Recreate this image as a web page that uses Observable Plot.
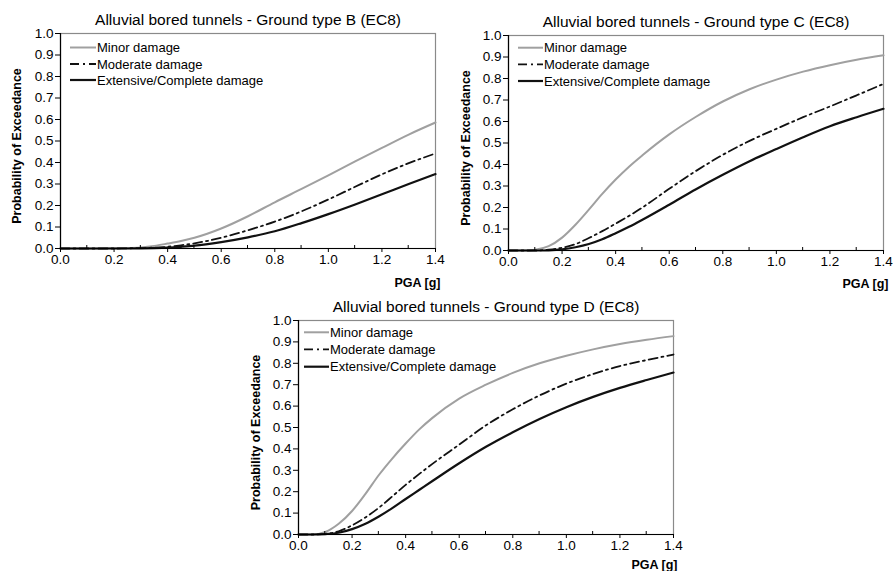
<!DOCTYPE html>
<html><head><meta charset="utf-8">
<script src="https://cdn.jsdelivr.net/npm/d3@7"></script>
<script src="https://cdn.jsdelivr.net/npm/@observablehq/plot@0.6"></script>
<style>
html,body{margin:0;padding:0;background:#fff}
body{width:893px;height:571px;position:relative;overflow:hidden;font-family:"Liberation Sans",Arial,sans-serif}
.panel{position:absolute}
.panel svg{overflow:visible}
</style></head><body>
<div id="pB" class="panel" style="left:0px;top:0px"></div>
<div id="pC" class="panel" style="left:440px;top:0px"></div>
<div id="pD" class="panel" style="left:230px;top:286px"></div>
<script>
// ---- data ----
const pga = [0, 0.05, 0.1, 0.15, 0.2, 0.25, 0.3, 0.35, 0.4, 0.45, 0.5, 0.6, 0.7, 0.8, 0.9, 1.0, 1.1, 1.2, 1.3, 1.4];
const seriesNames = ["Minor damage", "Moderate damage", "Extensive/Complete damage"];
const xTicks = [0, 0.2, 0.4, 0.6, 0.8, 1.0, 1.2, 1.4];
const xMinorTicks = [0.1, 0.3, 0.5, 0.7, 0.9, 1.1, 1.3];
const yTicks = [0, 0.1, 0.2, 0.3, 0.4, 0.5, 0.6, 0.7, 0.8, 0.9, 1.0];
const titles = [
  "Alluvial bored tunnels - Ground type B (EC8)",
  "Alluvial bored tunnels - Ground type C (EC8)",
  "Alluvial bored tunnels - Ground type D (EC8)"
];
const yLabel = "Probability of Exceedance";
const xLabel = "PGA [g]";

const minorB     = [0, 0, 0, 0, 0.001, 0.002, 0.005, 0.012, 0.023, 0.035, 0.05, 0.093, 0.15, 0.215, 0.277, 0.34, 0.405, 0.468, 0.53, 0.586];
const moderateB  = [0, 0, 0, 0, 0, 0.001, 0.002, 0.004, 0.008, 0.015, 0.024, 0.05, 0.085, 0.125, 0.173, 0.228, 0.287, 0.345, 0.397, 0.442];
const extensiveB = [0, 0, 0, 0, 0, 0, 0.001, 0.002, 0.004, 0.008, 0.013, 0.03, 0.052, 0.08, 0.118, 0.16, 0.205, 0.252, 0.3, 0.346];

const minorC     = [0, 0, 0.004, 0.02, 0.06, 0.12, 0.19, 0.263, 0.33, 0.39, 0.443, 0.54, 0.622, 0.693, 0.75, 0.795, 0.832, 0.862, 0.887, 0.908];
const moderateC  = [0, 0, 0, 0.004, 0.013, 0.03, 0.058, 0.09, 0.125, 0.161, 0.2, 0.287, 0.37, 0.445, 0.51, 0.566, 0.62, 0.67, 0.722, 0.775];
const extensiveC = [0, 0, 0, 0.001, 0.005, 0.015, 0.03, 0.052, 0.08, 0.11, 0.143, 0.213, 0.285, 0.352, 0.415, 0.472, 0.527, 0.578, 0.62, 0.659];

const minorD     = [0, 0, 0.012, 0.05, 0.11, 0.19, 0.278, 0.355, 0.425, 0.49, 0.545, 0.635, 0.7, 0.755, 0.8, 0.835, 0.865, 0.89, 0.91, 0.927];
const moderateD  = [0, 0, 0.003, 0.015, 0.043, 0.08, 0.125, 0.178, 0.232, 0.282, 0.33, 0.42, 0.51, 0.585, 0.65, 0.705, 0.75, 0.787, 0.815, 0.841];
const extensiveD = [0, 0, 0.002, 0.008, 0.025, 0.05, 0.084, 0.123, 0.166, 0.208, 0.25, 0.333, 0.41, 0.478, 0.54, 0.595, 0.643, 0.685, 0.722, 0.757];

// ---- styles ----
const seriesStyle = [
  {stroke: "#a0a0a0", strokeWidth: 2, dash: null},
  {stroke: "#111", strokeWidth: 1.8, dash: "9,4,2,4"},
  {stroke: "#111", strokeWidth: 2.2, dash: null}
];
const FONT = "'Liberation Sans', Arial, Helvetica, sans-serif";

function panel(cfg) {
  const {el, title, series, width, height, mt, mr, mb, ml, ylDx, xlDx, xlDy, legend} = cfg;
  const lineMarks = series.map((vals, s) => {
    const rows = pga.map((x, i) => ({pga: x, p: vals[i]}));
    return Plot.line(rows, {
      x: "pga", y: "p",
      stroke: seriesStyle[s].stroke,
      strokeWidth: seriesStyle[s].strokeWidth,
      strokeDasharray: seriesStyle[s].dash,
      curve: "monotone-x"
    });
  });
  const chart = Plot.plot({
    width, height,
    marginTop: mt, marginRight: mr, marginBottom: mb, marginLeft: ml,
    style: {fontFamily: FONT, fontSize: "13.5px", color: "#000", background: "transparent"},
    x: {domain: [0, 1.4]},
    y: {domain: [0, 1]},
    marks: [
      Plot.frame({stroke: "#8a8a8a", strokeWidth: 1.2}),
      ...lineMarks,
      Plot.ruleX([0], {stroke: "#000", strokeWidth: 1.2}),
      Plot.ruleY([0], {stroke: "#000", strokeWidth: 1.2}),
      Plot.axisX({ticks: xTicks, tickFormat: d3.format(".1f"), tickSize: 4, tickPadding: 2, label: null}),
      Plot.axisY({ticks: yTicks, tickFormat: d3.format(".1f"), tickSize: 5, tickPadding: 2, label: null}),
      Plot.text([title], {text: d => d, frameAnchor: "top", lineAnchor: "middle", dy: -13, fontSize: 15.5}),
      Plot.text([yLabel], {text: d => d, frameAnchor: "left", textAnchor: "middle", lineAnchor: "middle", dx: ylDx, dy: 5, rotate: -90, fontWeight: "bold", fontSize: 12.5}),
      Plot.text([xLabel], {text: d => d, frameAnchor: "bottom-right", textAnchor: "end", lineAnchor: "middle", dx: xlDx, dy: xlDy, fontWeight: "bold", fontSize: 12.5})
    ]
  });
  const svg = d3.select(chart);
  // minor x ticks (inward), positioned through the plot's x scale
  const xs = chart.scale("x");
  const yBottom = height - mb;
  const gm = svg.append("g").attr("stroke", "#000").attr("stroke-width", 1);
  xMinorTicks.forEach(t => {
    const px = xs.apply(t);
    gm.append("line").attr("x1", px).attr("x2", px).attr("y1", yBottom).attr("y2", yBottom - 3);
  });
  // legend
  const lg = svg.append("g").attr("transform", `translate(${ml},${mt})`)
    .attr("font-family", FONT).attr("font-size", 13).attr("text-anchor", "start");
  seriesNames.forEach((name, s) => {
    const y = legend.rows[s];
    lg.append("line")
      .attr("x1", legend.x0).attr("x2", legend.x1).attr("y1", y).attr("y2", y)
      .attr("stroke", seriesStyle[s].stroke)
      .attr("stroke-width", seriesStyle[s].strokeWidth)
      .attr("stroke-dasharray", seriesStyle[s].dash);
    lg.append("text").attr("x", legend.x1 + 1).attr("y", y).attr("dy", "0.35em")
      .attr("text-anchor", "start").text(name);
  });
  document.getElementById(el).appendChild(chart);
}

panel({el: "pB", title: titles[0], series: [minorB, moderateB, extensiveB],
  width: 446, height: 292, mt: 33, mr: 11, mb: 44, ml: 60, ylDx: -44, xlDx: 5, xlDy: 34,
  legend: {x0: 10, x1: 36, rows: [14.5, 31, 47]}});
panel({el: "pC", title: titles[1], series: [minorC, moderateC, extensiveC],
  width: 453, height: 292, mt: 35, mr: 10, mb: 42, ml: 68, ylDx: -43, xlDx: 5, xlDy: 33,
  legend: {x0: 10, x1: 35, rows: [12.7, 29.3, 46]}});
panel({el: "pD", title: titles[2], series: [minorD, moderateD, extensiveD],
  width: 453, height: 285, mt: 34, mr: 10, mb: 37, ml: 68, ylDx: -43, xlDx: 4, xlDy: 30,
  legend: {x0: 6, x1: 31, rows: [12.3, 29.3, 46.7]}});
</script>
</body></html>
